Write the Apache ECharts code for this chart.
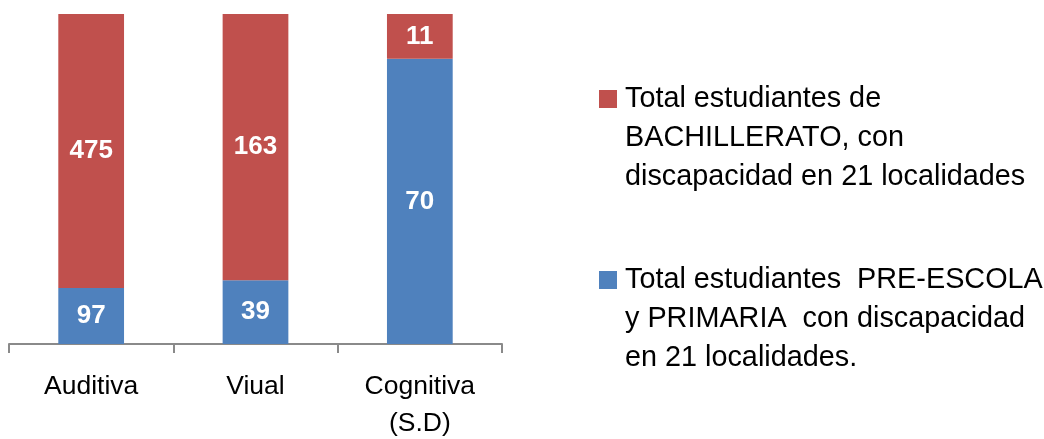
<!DOCTYPE html>
<html>
<head>
<meta charset="utf-8">
<script src="https://cdn.jsdelivr.net/npm/echarts@6/dist/echarts.min.js"></script>
<style>
  html, body { margin: 0; padding: 0; background: #fff; }
  #chart { width: 1044px; height: 439px; }
</style>
</head>
<body>
<div id="chart"></div>
<script>
  // datos
  const categorias = ['Auditiva', 'Viual', 'Cognitiva\n(S.D)'];
  const primaria = [97, 39, 70];
  const bachillerato = [475, 163, 11];
  const nombreBachillerato = 'Total estudiantes de\nBACHILLERATO, con\ndiscapacidad en 21 localidades';
  const nombrePrimaria = 'Total estudiantes  PRE-ESCOLAR\ny PRIMARIA  con discapacidad\nen 21 localidades.';

  // 100% apilado: cada barra se reparte según el total
  const totales = primaria.map((v, i) => v + bachillerato[i]);
  const pct = (arr) => arr.map((v, i) => ({ value: v / totales[i] * 100, raw: v }));

  const etiqueta = {
    show: true,
    position: 'inside',
    color: '#fff',
    fontFamily: 'Liberation Sans',
    fontWeight: 'bold',
    fontSize: 26,
    formatter: (p) => p.data.raw,
  };

  // la primera línea del texto queda alineada con el cuadrito
  const leyendaTexto = {
    rich: {
      gap: { height: 78, fontSize: 10, lineHeight: 78 },
      t: { fontFamily: 'Liberation Sans', fontSize: 28.8, color: '#000', lineHeight: 39, padding: [0, 0, 0, 3] },
    },
  };
  const leyendaFormato = (name) => '{gap| }\n' + name.split('\n').map((l) => '{t|' + l + '}').join('\n');

  const leyenda = (nombre, top) => ({
    data: [nombre],
    orient: 'vertical',
    left: 599,
    top: top,
    padding: 0,
    itemWidth: 18,
    itemHeight: 18,
    icon: 'rect',
    formatter: leyendaFormato,
    textStyle: leyendaTexto,
  });

  const chart = echarts.init(document.getElementById('chart'));
  chart.setOption({
    animation: false,
    grid: { left: 9, right: 1044 - 502, top: 14, bottom: 95, outerBoundsMode: 'none', containLabel: false },
    legend: [leyenda(nombreBachillerato, 1.5), leyenda(nombrePrimaria, 182.5)],
    xAxis: {
      type: 'category',
      data: categorias,
      axisLine: { lineStyle: { color: '#8a8a8a', width: 2 } },
      axisTick: { show: true, alignWithLabel: false, length: 9, lineStyle: { color: '#8a8a8a', width: 2 } },
      axisLabel: {
        color: '#000',
        fontFamily: 'Liberation Sans',
        fontSize: 26.5,
        lineHeight: 37,
        margin: 24,
      },
    },
    yAxis: {
      type: 'value',
      min: 0,
      max: 100,
      show: false,
    },
    series: [
      {
        name: nombrePrimaria,
        type: 'bar',
        stack: 'total',
        barWidth: '40%',
        itemStyle: { color: '#4F81BD' },
        label: etiqueta,
        data: pct(primaria),
      },
      {
        name: nombreBachillerato,
        type: 'bar',
        stack: 'total',
        barWidth: '40%',
        itemStyle: { color: '#C0504D' },
        label: etiqueta,
        data: pct(bachillerato),
      },
    ],
  });
</script>
</body>
</html>
